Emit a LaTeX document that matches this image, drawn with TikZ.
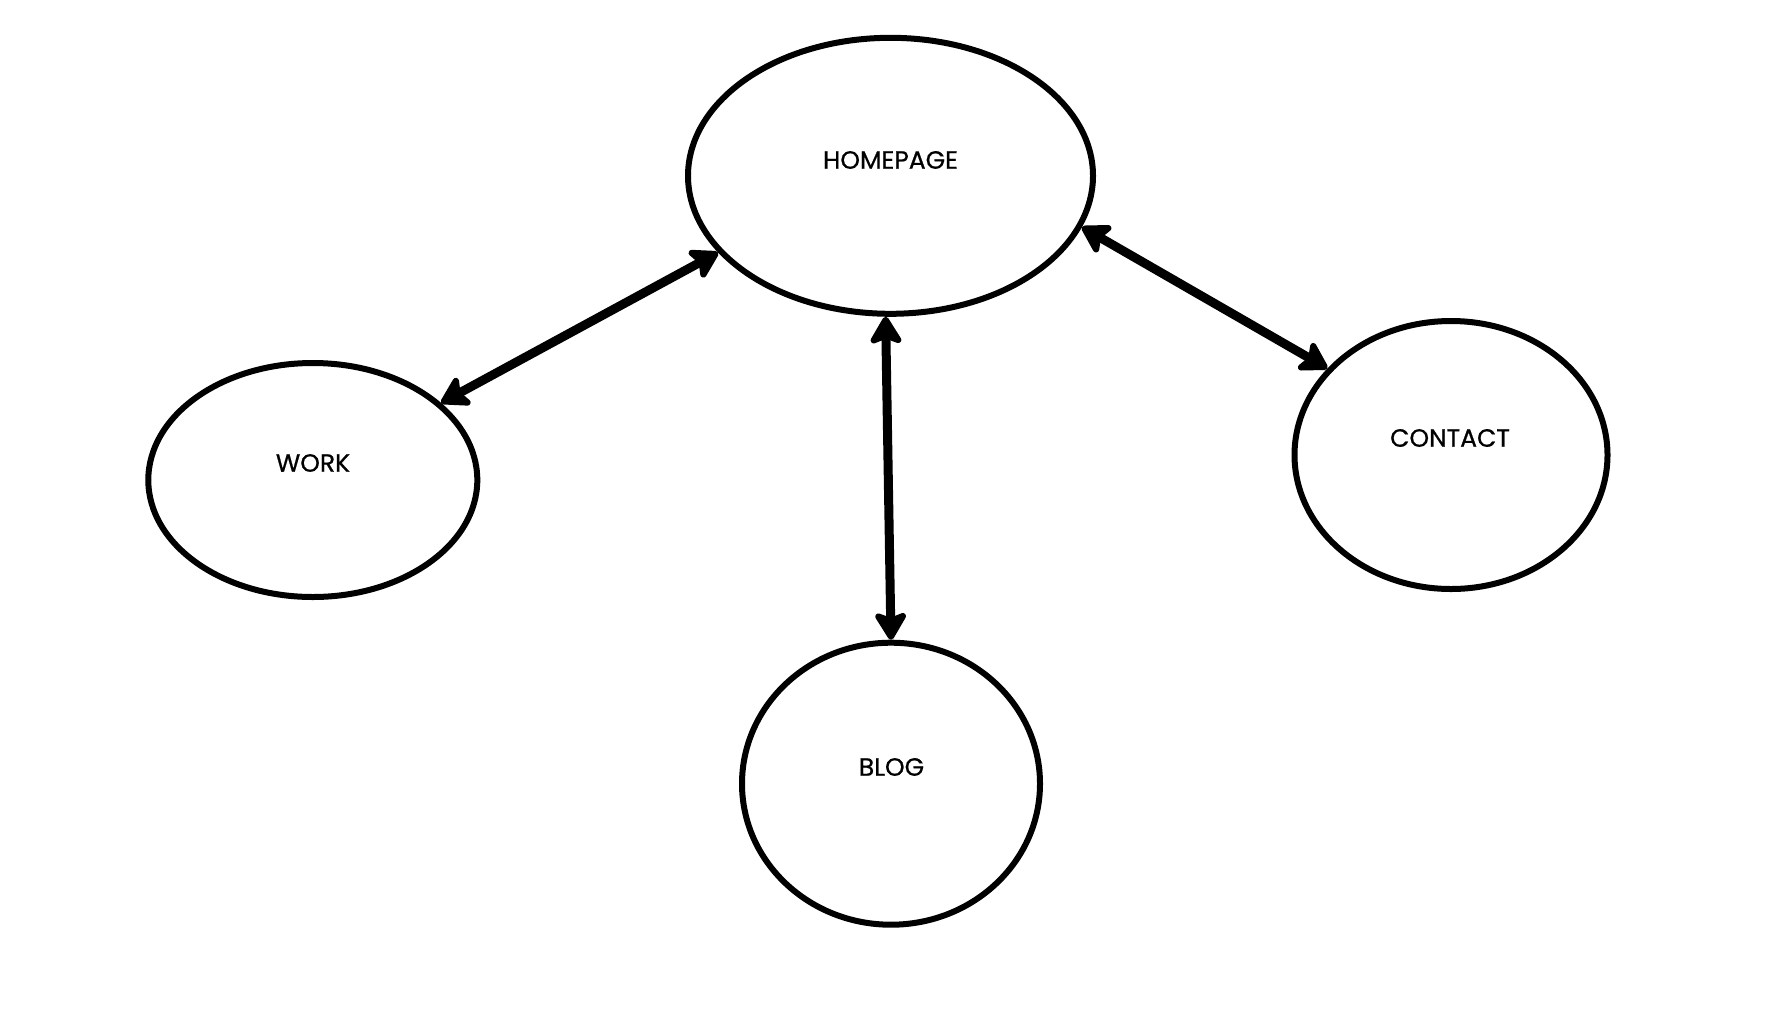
\documentclass[tikz,border=0pt]{standalone}
\usepackage{fontspec}
\setmainfont{Poppins}
\usetikzlibrary{shapes.geometric,arrows.meta}
\begin{document}
\begin{tikzpicture}[x=1pt,y=-1pt,
  page/.style={ellipse,draw=black,line width=6pt,inner sep=0pt},
  caption/.style={font=\fontsize{25}{27}\selectfont\addfontfeatures{FakeBold=0.7},text=black,inner sep=0pt},
  link/.style={line width=9pt,
    {Stealth[length=32pt,width=38pt,inset=7pt,round]}-{Stealth[length=32pt,width=38pt,inset=7pt,round]}}]
  \useasboundingbox[fill=white] (0,0) rectangle (1790,1018);

  % pages of the site
  \node[page,minimum width=405pt,minimum height=276pt] (home) at (890.5,175.8) {};
  \node[page,minimum width=329pt,minimum height=234pt] (work) at (312.8,480) {};
  \node[page,minimum width=313pt,minimum height=268pt] (contact) at (1451,455) {};
  \node[page,minimum width=298pt,minimum height=282pt] (blog) at (891,783.7) {};

  % page titles
  \node[caption] (homeT) at (890.5,160) {HOMEPAGE};
  \node[caption] (workT) at (313,463) {WORK};
  \node[caption] (contactT) at (1450,438) {CONTACT};
  \node[caption] (blogT) at (891.5,767) {BLOG};

  % two-way links
  \draw[link] (work.31) -- (home.204.3);
  \draw[link] (home.345.6) -- (contact.145.6);
  \draw[link] (home.268.1) -- (blog.90);
\end{tikzpicture}
\end{document}
